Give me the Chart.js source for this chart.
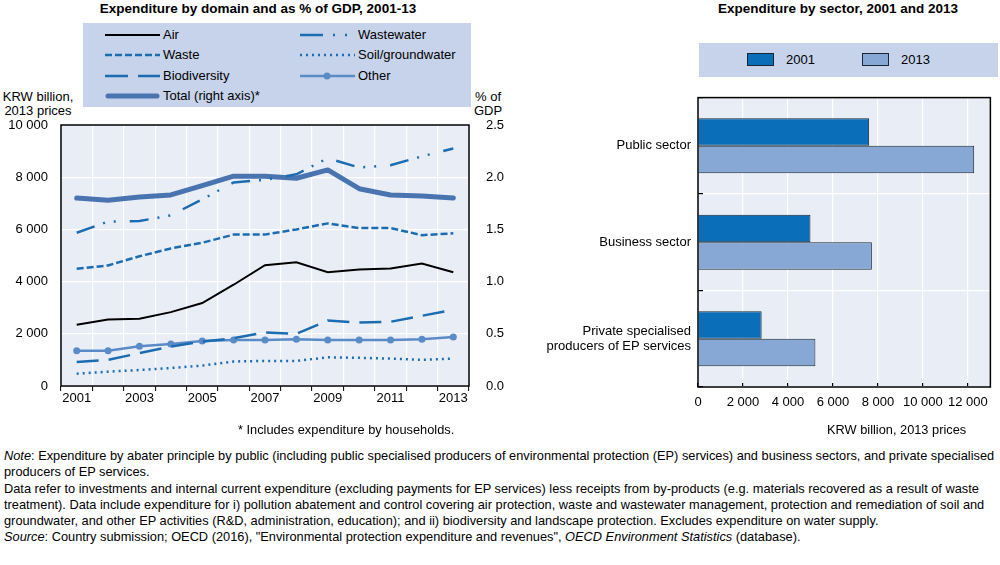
<!DOCTYPE html>
<html>
<head>
<meta charset="utf-8">
<script src="https://cdn.jsdelivr.net/npm/chart.js@4"></script>
<style>
  body { margin: 0; width: 1000px; height: 565px; position: relative; background: #fff; font-family: "Liberation Sans", Arial, sans-serif; color: #000; overflow: hidden; }
  .abs { position: absolute; white-space: nowrap; }
  .title { font-weight: bold; font-size: 13.5px; }
  .lbl { font-size: 13px; line-height: 14px; }
  #legendL { left: 83px; top: 23px; width: 388px; height: 84px; background: #c6d3eb; }
  #legendR { left: 699px; top: 43px; width: 299px; height: 34px; background: #c6d3eb; }
  .item { position: absolute; font-size: 13px; line-height: 16px; }
  .item svg { position: absolute; left: 0; top: 2px; }
  .item span { position: absolute; left: 58px; top: 0; }
  .notes { left: 4px; top: 448px; font-size: 12.8px; line-height: 16.3px; }
  .small { font-size: 12.8px; }
  canvas { position: absolute; }
</style>
</head>
<body>

<div class="abs title" style="left:0; width:516px; text-align:center; top:1px;">Expenditure by domain and as % of GDP, 2001-13</div>
<div class="abs title" style="left:690px; width:296px; text-align:center; top:1px;">Expenditure by sector, 2001 and 2013</div>

<div id="legendL" class="abs"></div>
<div id="legendR" class="abs"></div>

<div class="abs lbl" style="left:0; width:76px; text-align:center; top:90px;">KRW billion,<br>2013 prices</div>
<div class="abs lbl" style="left:474px; width:28px; text-align:center; top:90px;">% of<br>GDP</div>

<canvas id="chart"></canvas>
<canvas id="chart2"></canvas>

<div class="abs small" style="left:238px; top:422px;">* Includes expenditure by households.</div>
<div class="abs small" style="left:827px; top:422px;">KRW billion, 2013 prices</div>

<div class="abs notes">
<div><i>Note</i>: Expenditure by abater principle by public (including public specialised producers of environmental protection (EP) services) and business sectors, and private specialised</div>
<div>producers of EP services.</div>
<div>Data refer to investments and internal current expenditure (excluding payments for EP services) less receipts from by-products (e.g. materials recovered as a result of waste</div>
<div>treatment). Data include expenditure for i) pollution abatement and control covering air protection, waste and wastewater management, protection and remediation of soil and</div>
<div>groundwater, and other EP activities (R&amp;D, administration, education); and ii) biodiversity and landscape protection. Excludes expenditure on water supply.</div>
<div><i>Source</i>: Country submission; OECD (2016), "Environmental protection expenditure and revenues", <i>OECD Environment Statistics</i> (database).</div>
</div>

<script>
// data

const years = ['2001','2002','2003','2004','2005','2006','2007','2008','2009','2010','2011','2012','2013'];
const air = [2350, 2550, 2580, 2830, 3180, 3880, 4630, 4740, 4360, 4460, 4500, 4690, 4360];
const waste = [4490, 4620, 4970, 5270, 5490, 5800, 5800, 6000, 6230, 6050, 6050, 5780, 5850];
const wastewater = [5870, 6300, 6320, 6540, 7150, 7800, 7900, 8110, 8730, 8370, 8460, 8800, 9100];
const biodiversity = [920, 1000, 1260, 1510, 1700, 1830, 2050, 2000, 2510, 2430, 2460, 2690, 2920];
const soil = [470, 550, 610, 690, 780, 940, 960, 960, 1100, 1080, 1050, 1000, 1050];
const other = [1350, 1350, 1520, 1610, 1720, 1760, 1760, 1790, 1760, 1760, 1760, 1790, 1880];
const totalGdp = [1.80, 1.78, 1.81, 1.83, 1.92, 2.01, 2.01, 1.99, 2.07, 1.89, 1.83, 1.82, 1.80];

const sectors = ['Public sector', 'Business sector', ['Private specialised', 'producers of EP services']];
const sector2001 = [7610, 5000, 2830];
const sector2013 = [12280, 7730, 5220];

const BLUE = '#1c6cb2';
const OTHER = '#5b8bc7';
const TOTAL = '#4a74b0';
const BAR01 = '#0b6eb8';
const BAR13 = '#87a7d5';
const PLOT_BG = '#e9eef6';

Chart.defaults.font.family = '"Liberation Sans", Arial, sans-serif';
Chart.defaults.font.size = 13;
Chart.defaults.color = '#000';

function spaced(v){
  return Number(v).toLocaleString('en-US').replace(/,/g, ' ');
}

//background and frame of the plot area

const plotFrame = {
  id: 'plotFrame',
  beforeDraw(chart){
    const a = chart.chartArea;
    const c = chart.ctx;
    c.save();
    c.fillStyle = PLOT_BG;
    c.fillRect(a.left, a.top, a.right - a.left, a.bottom - a.top);
    c.restore();
  },
  afterDraw(chart){
    const a = chart.chartArea;
    const c = chart.ctx;
    c.save();
    c.strokeStyle = '#000';
    c.lineWidth = 1.5;
    c.strokeRect(a.left, a.top, a.right - a.left, a.bottom - a.top);
    c.restore();
  }
};

function setupCanvas(id, left, top, w, h){
  const cv = document.getElementById(id);
  cv.style.left = left + 'px';
  cv.style.top = top + 'px';
  cv.style.width = w + 'px';
  cv.style.height = h + 'px';
  cv.width = w;
  cv.height = h;
  return cv.getContext('2d');
}

//left chart: lines by domain plus total on the right axis

const ctx = setupCanvas('chart', 0, 100, 520, 330);

const lineSets = [
  { label: 'Air', data: air, borderColor: '#000', borderWidth: 2 },
  { label: 'Wastewater', data: wastewater, borderColor: BLUE, borderWidth: 2.5, borderDash: [19, 9, 2, 9, 2, 14] },
  { label: 'Waste', data: waste, borderColor: BLUE, borderWidth: 2.5, borderDash: [7, 3] },
  { label: 'Soil/groundwater', data: soil, borderColor: BLUE, borderWidth: 2.5, borderDash: [2, 4] },
  { label: 'Biodiversity', data: biodiversity, borderColor: BLUE, borderWidth: 2.5, borderDash: [22, 10] },
  { label: 'Other', data: other, borderColor: OTHER, borderWidth: 2.5, pointRadius: 3.5, pointBackgroundColor: OTHER, pointBorderWidth: 0 },
  { label: 'Total (right axis)*', data: totalGdp, borderColor: TOTAL, borderWidth: 5, yAxisID: 'y1', borderCapStyle: 'round', borderJoinStyle: 'round' }
];

new Chart(ctx, {
  type: 'line',
  data: {
    labels: years,
    datasets: lineSets.map(s => Object.assign({
      fill: false,
      tension: 0,
      pointRadius: 0,
      yAxisID: 'y'
    }, s))
  },
  options: {
    responsive: false,
    animation: false,
    events: [],
    layout: { padding: { top: 25, left: 0, right: 0, bottom: 0 } },
    plugins: { legend: { display: false }, tooltip: { enabled: false } },
    scales: {
      x: {
        offset: true,
        grid: { offset: true, color: '#fff', lineWidth: 1.2, tickColor: '#000', tickLength: 5, tickWidth: 1 },
        border: { display: false },
        ticks: {
          autoSkip: false, maxRotation: 0, padding: 0,
          callback: (v, i) => (i % 2 === 0 ? years[i] : '')
        },
        afterFit: s => { s.height = 44; }
      },
      y: {
        position: 'left',
        min: 0, max: 10000,
        grid: { color: '#fff', lineWidth: 1.2, drawTicks: false },
        border: { display: false },
        ticks: { stepSize: 2000, padding: 13, callback: v => spaced(v) },
        afterFit: s => { s.width = 61; }
      },
      y1: {
        position: 'right',
        min: 0, max: 2.5,
        grid: { drawOnChartArea: false, drawTicks: false },
        border: { display: false },
        ticks: { stepSize: 0.5, padding: 17, callback: v => Number(v).toFixed(1) },
        afterFit: s => { s.width = 51; }
      }
    }
  },
  plugins: [plotFrame]
});

//right chart: horizontal bars by sector
//the two-line label pushes the plot top down, so the canvas starts higher

const ctx2 = setupCanvas('chart2', 540, 70, 460, 360);

new Chart(ctx2, {
  type: 'bar',
  data: {
    labels: sectors,
    datasets: [
      { label: '2001', data: sector2001, backgroundColor: BAR01, borderColor: '#1a2633', borderWidth: 1 },
      { label: '2013', data: sector2013, backgroundColor: BAR13, borderColor: '#1a2633', borderWidth: 1 }
    ]
  },
  options: {
    indexAxis: 'y',
    responsive: false,
    animation: false,
    events: [],
    layout: { padding: { top: 0, left: 0, right: 3, bottom: 0 } },
    plugins: { legend: { display: false }, tooltip: { enabled: false } },
    datasets: { bar: { barPercentage: 1, categoryPercentage: 0.57 } },
    scales: {
      x: {
        min: 0, max: 13000,
        grid: { color: '#fff', lineWidth: 1.2, tickColor: '#000', tickLength: -4 },
        border: { display: false },
        ticks: { stepSize: 1000, maxTicksLimit: 20, autoSkip: false, maxRotation: 0, padding: 12, callback: v => spaced(v) },
        afterBuildTicks: s => { s.ticks = s.ticks.filter(t => t.value % 2000 === 0); },
        afterFit: s => { s.height = 43; }
      },
      y: {
        offset: true,
        grid: { offset: true, color: '#fff', lineWidth: 1.2, tickColor: '#000', tickLength: -5 },
        border: { display: false },
        ticks: { padding: 12, autoSkip: false },
        afterFit: s => { s.width = 158; }
      }
    }
  },
  plugins: [plotFrame]
});

//legends as real text with small line samples

const legendL = document.getElementById('legendL');
const samples = {
  'Air': '<line x1="0" y1="6" x2="55" y2="6" stroke="#000" stroke-width="2"/>',
  'Waste': '<line x1="0" y1="6" x2="55" y2="6" stroke="' + BLUE + '" stroke-width="2.5" stroke-dasharray="7 3"/>',
  'Biodiversity': '<line x1="0" y1="6" x2="55" y2="6" stroke="' + BLUE + '" stroke-width="2.5" stroke-dasharray="23 10"/>',
  'Total (right axis)*': '<line x1="3" y1="6" x2="52" y2="6" stroke="' + TOTAL + '" stroke-width="5" stroke-linecap="round"/>',
  'Wastewater': '<line x1="0" y1="6" x2="55" y2="6" stroke="' + BLUE + '" stroke-width="2.5" stroke-dasharray="23 10 2 10 2 10"/>',
  'Soil/groundwater': '<line x1="0" y1="6" x2="55" y2="6" stroke="' + BLUE + '" stroke-width="2.5" stroke-dasharray="2 4"/>',
  'Other': '<line x1="0" y1="6" x2="55" y2="6" stroke="' + OTHER + '" stroke-width="2.5"/><circle cx="27" cy="6" r="3.5" fill="' + OTHER + '"/>'
};
const legendPos = [
  ['Air', 22, 4], ['Waste', 22, 24], ['Biodiversity', 22, 45], ['Total (right axis)*', 22, 65],
  ['Wastewater', 217, 4], ['Soil/groundwater', 217, 24], ['Other', 217, 45]
];
legendPos.forEach(([name, x, y]) => {
  const div = document.createElement('div');
  div.className = 'item';
  div.style.left = x + 'px';
  div.style.top = y + 'px';
  div.innerHTML = '<svg width="56" height="12">' + samples[name] + '</svg><span>' + name + '</span>';
  legendL.appendChild(div);
});

const legendR = document.getElementById('legendR');
[['2001', BAR01, 48], ['2013', BAR13, 163]].forEach(([name, col, x]) => {
  const div = document.createElement('div');
  div.className = 'item';
  div.style.left = x + 'px';
  div.style.top = 9 + 'px';
  div.innerHTML = '<svg width="28" height="14" style="top:1px"><rect x="0.5" y="0.5" width="26" height="12" fill="' + col + '" stroke="#1a2633"/></svg><span style="left:39px">' + name + '</span>';
  legendR.appendChild(div);
});
</script>
</body>
</html>
